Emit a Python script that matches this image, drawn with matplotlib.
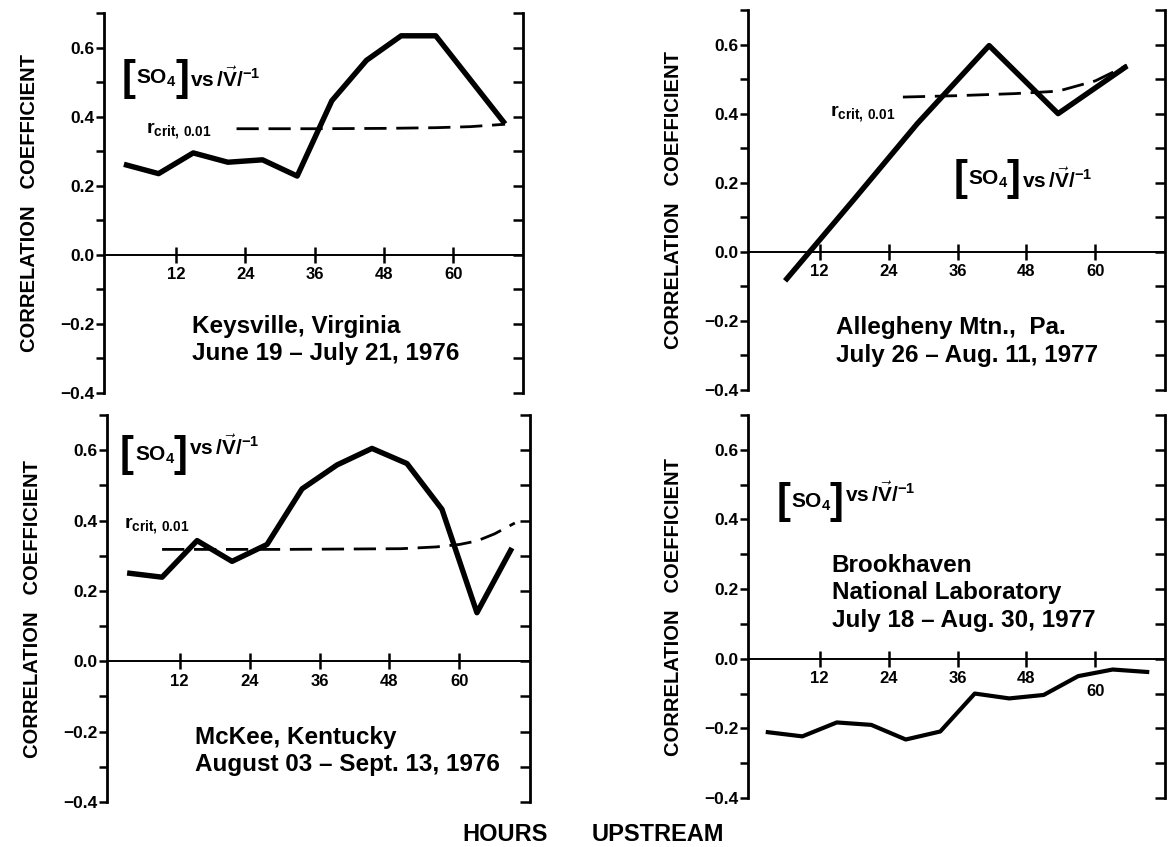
import numpy as np
import matplotlib
matplotlib.use('Agg')
import matplotlib.pyplot as plt
from matplotlib.ticker import FixedLocator, MultipleLocator

# fonts
plt.rcParams['font.family'] = ['Liberation Sans', 'DejaVu Sans']
plt.rcParams['font.weight'] = 'bold'
plt.rcParams['mathtext.fontset'] = 'custom'
plt.rcParams['mathtext.rm'] = 'Liberation Sans:bold'
plt.rcParams['mathtext.it'] = 'Liberation Sans:bold'
plt.rcParams['mathtext.bf'] = 'Liberation Sans:bold'
plt.rcParams['mathtext.sf'] = 'Liberation Sans:bold'

# correlation of [SO4] with inverse wind speed vs hours upstream
key_hours = [3, 9, 15, 21, 27, 33, 39, 45, 51, 57, 69]
key_r = [0.262, 0.235, 0.295, 0.268, 0.275, 0.228, 0.446, 0.563, 0.634, 0.634, 0.379]
key_crit_hours = [22.5, 36, 48, 57, 63, 69]
key_crit_r = [0.365, 0.365, 0.366, 0.368, 0.371, 0.378]

alle_hours = [6, 18, 29, 41.5, 53.5, 65.5]
alle_r = [-0.084, 0.152, 0.371, 0.597, 0.400, 0.538]
alle_crit_hours = [26.5, 36, 46, 53.5, 60, 65.5]
alle_crit_r = [0.448, 0.452, 0.458, 0.465, 0.495, 0.540]

mck_hours = [3, 9, 15, 21, 27, 33, 39, 45, 51, 57, 63, 69]
mck_r = [0.251, 0.239, 0.343, 0.284, 0.332, 0.490, 0.558, 0.605, 0.562, 0.432, 0.138, 0.322]
mck_crit_hours = [9, 30, 50, 56, 60, 63, 66, 69.5]
mck_crit_r = [0.318, 0.318, 0.320, 0.325, 0.332, 0.342, 0.362, 0.393]

bnl_hours = [3, 9, 15, 21, 27, 33, 39, 45, 51, 57, 63, 69]
bnl_r = [-0.211, -0.223, -0.183, -0.190, -0.232, -0.209, -0.100, -0.114, -0.104, -0.050, -0.031, -0.038]

x_ticks = [12, 24, 36, 48, 60]
x_labels = ['12', '24', '36', '48', '60']
y_ticks = [-0.4, -0.2, 0.0, 0.2, 0.4, 0.6]
y_labels = ['\u22120.4', '\u22120.2', '0.0', '0.2', '0.4', '0.6']

W, H = 1171, 847
fig = plt.figure(figsize=(W / 100, H / 100), dpi=100)


def make_axes(x0, x1, ytop, ybot):
    ax = fig.add_axes([x0 / W, 1 - ybot / H, (x1 - x0) / W, (ybot - ytop) / H])
    ax.set_xlim(-0.45, 72.1)
    ax.set_ylim(-0.4, 0.7)
    ax.spines['top'].set_visible(False)
    ax.spines['right'].set_visible(False)
    ax.spines['left'].set_linewidth(2.0)
    ax.spines['bottom'].set_position(('data', 0))
    ax.spines['bottom'].set_linewidth(1.4)
    ax.set_xticks(x_ticks, x_labels)
    ax.tick_params(axis='x', direction='inout', length=12, width=1.8, pad=3, labelsize=12)
    ax.yaxis.set_major_locator(FixedLocator(y_ticks))
    ax.set_yticklabels(y_labels)
    ax.yaxis.set_minor_locator(MultipleLocator(0.1))
    ax.tick_params(axis='y', which='both', direction='out', length=6, width=1.8, pad=1, labelsize=12.5)
    sec = ax.secondary_yaxis('right')
    sec.set_yticks(np.arange(-0.4, 0.71, 0.1))
    sec.tick_params(direction='in', length=7, width=1.8, labelright=False)
    sec.spines['right'].set_linewidth(2.0)
    ycen = 1 - ((ytop + ybot) / 2) / H
    fig.text((x0 - 74) / W, ycen, 'CORRELATION   COEFFICIENT', rotation=90,
             ha='center', va='center', fontsize=14.5, fontweight='bold')
    return ax


def so4_label(ax, x, y, vs_dy=0):
    # [SO4] vs /V/^-1 built from pieces so the brackets can be tall
    kw = dict(xy=(x, y), xycoords='data', textcoords='offset points', va='center', ha='left')
    ax.annotate('[', xytext=(0, 0), fontsize=30, **kw)
    ax.annotate(r'SO$_4$', xytext=(10.5, 0), fontsize=15, **kw)
    ax.annotate(']', xytext=(38.5, 0), fontsize=30, **kw)
    ax.annotate(r'$\mathrm{vs}\,/\vec{\mathrm{V}}/^{-1}$', xytext=(49.5, vs_dy), fontsize=15, **kw)


ax1 = make_axes(104, 523, 13, 393)
ax2 = make_axes(748, 1165, 10, 390)
ax3 = make_axes(107, 530, 415, 802)
ax4 = make_axes(748, 1165, 415, 798)

solid = dict(color='black', lw=3.9, solid_joinstyle='round', solid_capstyle='butt')
dashed = dict(color='black', lw=2.0, dashes=(8, 3.5))

ax1.plot(key_hours, key_r, **solid)
ax1.plot(key_crit_hours, key_crit_r, **dashed)
ax2.plot(alle_hours, alle_r, **solid)
ax2.plot(alle_crit_hours, alle_crit_r, **dashed)
ax3.plot(mck_hours, mck_r, **solid)
ax3.plot(mck_crit_hours, mck_crit_r, **dashed)
ax4.plot(bnl_hours, bnl_r, color='black', lw=3.0, solid_joinstyle='round')

# the 60 label sits lower where the curve runs close to the axis
ax4.xaxis.get_major_ticks()[4].set_pad(12)

rcrit = r'$r_{\mathrm{crit,\,0.01}}$'
name_kw = dict(fontsize=17.5, fontweight='bold', ha='left', va='center', linespacing=1.25)

# Keysville
so4_label(ax1, 2.6, 0.51)
ax1.text(6.8, 0.36, rcrit, fontsize=14, ha='left', va='center')
ax1.text(14.8, -0.247, 'Keysville, Virginia\nJune 19 \u2013 July 21, 1976', **name_kw)

# Allegheny
so4_label(ax2, 35.3, 0.21)
ax2.text(13.9, 0.40, rcrit, fontsize=14, ha='left', va='center')
ax2.text(14.8, -0.26, 'Allegheny Mtn.,  Pa.\nJuly 26 \u2013 Aug. 11, 1977', **name_kw)

# McKee
so4_label(ax3, 1.8, 0.585, vs_dy=6)
ax3.text(2.4, 0.385, rcrit, fontsize=14, ha='left', va='center')
ax3.text(14.7, -0.255, 'McKee, Kentucky\nAugust 03 \u2013 Sept. 13, 1976', **name_kw)

# Brookhaven
so4_label(ax4, 4.5, 0.45, vs_dy=6)
ax4.text(14.1, 0.19, 'Brookhaven\nNational Laboratory\nJuly 18 \u2013 Aug. 30, 1977', **name_kw)

fig.text(462 / W, 1 - 834 / H, 'HOURS', fontsize=17, fontweight='bold', ha='left', va='center')
fig.text(592 / W, 1 - 834 / H, 'UPSTREAM', fontsize=17, fontweight='bold', ha='left', va='center')

fig.savefig('out.png', dpi=100)
